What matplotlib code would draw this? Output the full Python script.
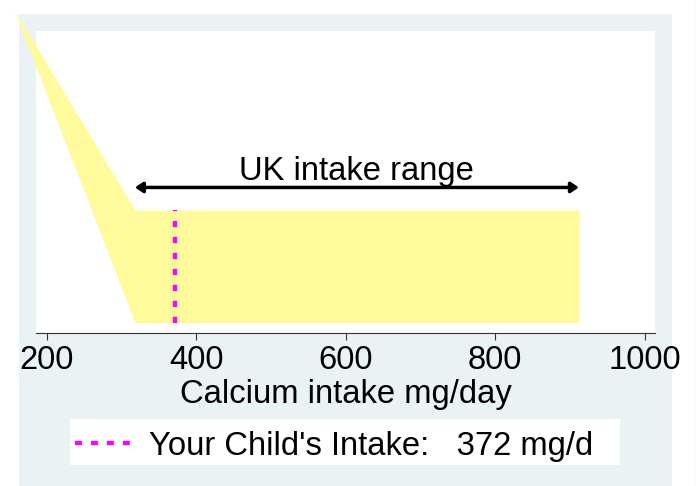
import matplotlib
matplotlib.use("Agg")
import matplotlib.pyplot as plt
from matplotlib.patches import Rectangle
from matplotlib.lines import Line2D

plt.rcParams['font.family'] = ['Liberation Sans', 'DejaVu Sans']
plt.rcParams['lines.scale_dashes'] = False

# Data
area_x = [156, 318, 912]
area_low = [2.78, 0.0, 0.0]
area_high = [2.78, 1.0, 1.0]
range_lo, range_hi = 318, 912
range_y = 1.2
range_label = "UK intake range"
child_intake = 372
xticks = [200, 400, 600, 800, 1000]
xlabel = "Calcium intake mg/day"
legend_label = "Your Child's Intake:   372 mg/d"

W, H = 696, 486
FS = 23.6
fig = plt.figure(figsize=(W / 100, H / 100), dpi=100)
fig.patch.set_facecolor('white')

def fx(px):
    return px / W

def fy(py):
    return 1 - py / H

# graph region
fig.patches.append(Rectangle((fx(19), fy(490)), fx(672) - fx(19), fy(14) - fy(490),
                             transform=fig.transFigure, facecolor='#EAF2F3',
                             edgecolor='none', zorder=-10))
# legend box background
fig.patches.append(Rectangle((fx(70), fy(465)), fx(620) - fx(70), fy(419) - fy(465),
                             transform=fig.transFigure, facecolor='white',
                             edgecolor='none', zorder=-5))
# thin right border line
fig.lines.append(Line2D([fx(695.5), fx(695.5)], [0, 1], transform=fig.transFigure,
                        color='#b4b4b4', lw=0.8))

ax = fig.add_axes([fx(36), fy(332.7), fx(655) - fx(36), fy(31) - fy(332.7)])
ax.set_facecolor('white')
ax.set_xlim(185.7, 1013.8)
ax.set_ylim(-0.0887, 2.588)
for s in ['top', 'left', 'right']:
    ax.spines[s].set_visible(False)
ax.spines['bottom'].set_color('#333333')
ax.spines['bottom'].set_linewidth(0.8)
ax.set_yticks([])
ax.set_xticks(xticks)
ax.set_xticklabels([str(t) for t in xticks])
ax.tick_params(axis='x', direction='out', length=5, width=0.8, color='#333333',
               labelsize=FS, pad=4)

ax.fill_between(area_x, area_low, area_high, color='#FFFA9C', linewidth=0,
                clip_on=False, zorder=1)

ax.plot([child_intake, child_intake], [0, 1], color='#FF00FF', lw=3.1,
        dashes=(4.5, 7), dash_capstyle='butt', zorder=3)

ax.annotate('', xy=(range_hi, range_y), xytext=(range_lo, range_y),
            arrowprops=dict(arrowstyle='<|-|>,head_length=0.45,head_width=0.3',
                            lw=2.5, color='black', shrinkA=0, shrinkB=0,
                            mutation_scale=10), zorder=4)
ax.text((range_lo + range_hi) / 2, 1.34, range_label, ha='center', va='center',
        fontsize=FS)

ax.set_xlabel(xlabel, fontsize=FS, labelpad=2)

handle = Line2D([0], [0], color='#FF00FF', lw=3.1, dashes=(5, 6.5),
                dash_capstyle='butt')
leg = fig.legend([handle], [legend_label], loc='center',
                 bbox_to_anchor=(fx(334), fy(446)), fontsize=FS,
                 frameon=False, handlelength=1.69,
                 handletextpad=0.55, borderpad=0.2, borderaxespad=0)

fig.savefig('out.png', dpi=100)
